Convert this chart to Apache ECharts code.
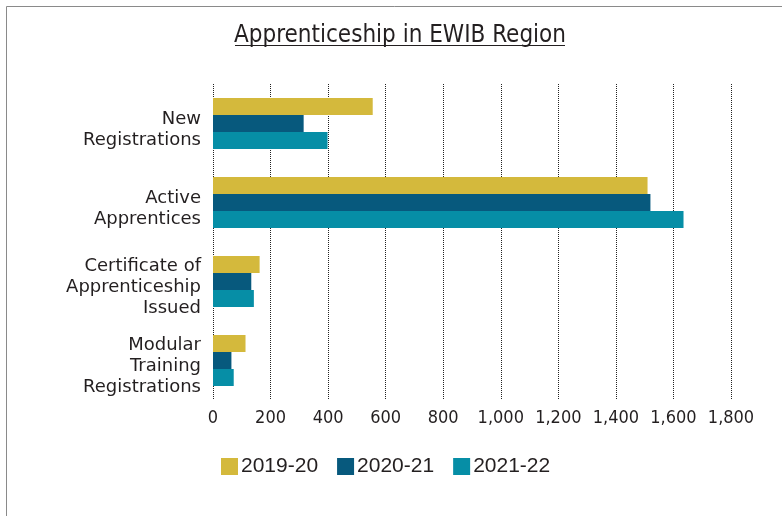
<!DOCTYPE html>
<html>
<head>
<meta charset="utf-8">
<script src="https://cdn.jsdelivr.net/npm/echarts@6/dist/echarts.min.js"></script>
<style>
html, body { margin: 0; padding: 0; background: #fff; }
#chart { width: 782px; height: 516px; }
</style>
</head>
<body>
<div id="chart"></div>
<script>
var chart = echarts.init(document.getElementById('chart'));

var categories = ['New\nRegistrations', 'Active\nApprentices', 'Certificate of\nApprenticeship\nIssued', 'Modular\nTraining\nRegistrations'];
var years = ['2019-20', '2020-21', '2021-22'];
var values1920 = [555, 1510, 162, 113];
var values2021 = [315, 1520, 133, 64];
var values2122 = [398, 1635, 142, 72];
var colors = ['#D4B93C', '#07597D', '#068EA6'];

var narrow = '"Liberation Sans Narrow", "DejaVu Sans Condensed", "Liberation Sans", sans-serif';
var labelFont = '"DejaVu Sans", sans-serif';
var legendFont = '"Liberation Sans", sans-serif';

var option = {
    animation: false,
    title: {
        text: 'Apprenticeship in EWIB Region',
        left: 229,
        top: 19,
        textStyle: { fontFamily: narrow, fontSize: 24, fontWeight: 'normal', color: '#231f20' }
    },
    graphic: [
        { type: 'rect', shape: { x: 6.5, y: 6.5, width: 800, height: 600 }, style: { fill: 'none', stroke: '#8a8a8a', lineWidth: 1 } },
        { type: 'line', shape: { x1: 235, y1: 45.5, x2: 565, y2: 45.5 }, style: { stroke: '#231f20', lineWidth: 1.2 } }
    ],
    legend: {
        left: 216,
        top: 451,
        itemWidth: 17,
        itemHeight: 17,
        itemGap: 19,
        icon: 'rect',
        textStyle: { fontFamily: legendFont, fontSize: 21, color: '#231f20', padding: [0, 0, 0, -2] },
        data: years
    },
    grid: { left: 213, right: 51, top: 84, bottom: 116 },
    xAxis: {
        type: 'value',
        min: 0,
        max: 1800,
        interval: 200,
        axisLine: { show: false },
        axisTick: { show: false },
        axisLabel: {
            fontFamily: narrow, fontSize: 18, color: '#231f20', margin: 9,
            formatter: function (v) { return v.toLocaleString('en-US'); }
        },
        splitLine: { show: true, lineStyle: { type: 'dotted', color: '#222', width: 1 } }
    },
    yAxis: {
        type: 'category',
        inverse: true,
        data: categories,
        axisLine: { show: false },
        axisTick: { show: false },
        axisLabel: {
            fontFamily: labelFont, fontSize: 18, color: '#231f20', lineHeight: 21, margin: 12, align: 'right',
            formatter: function (v) { return '{s| }\n' + v; },
            rich: { s: { fontSize: 1, lineHeight: 12 } }
        }
    },
    series: [
        { name: years[0], type: 'bar', data: values1920, itemStyle: { color: colors[0] }, barWidth: 17, barGap: '0%' },
        { name: years[1], type: 'bar', data: values2021, itemStyle: { color: colors[1] }, barWidth: 17, barGap: '0%' },
        { name: years[2], type: 'bar', data: values2122, itemStyle: { color: colors[2] }, barWidth: 17, barGap: '0%' }
    ]
};

chart.setOption(option);
</script>
</body>
</html>
